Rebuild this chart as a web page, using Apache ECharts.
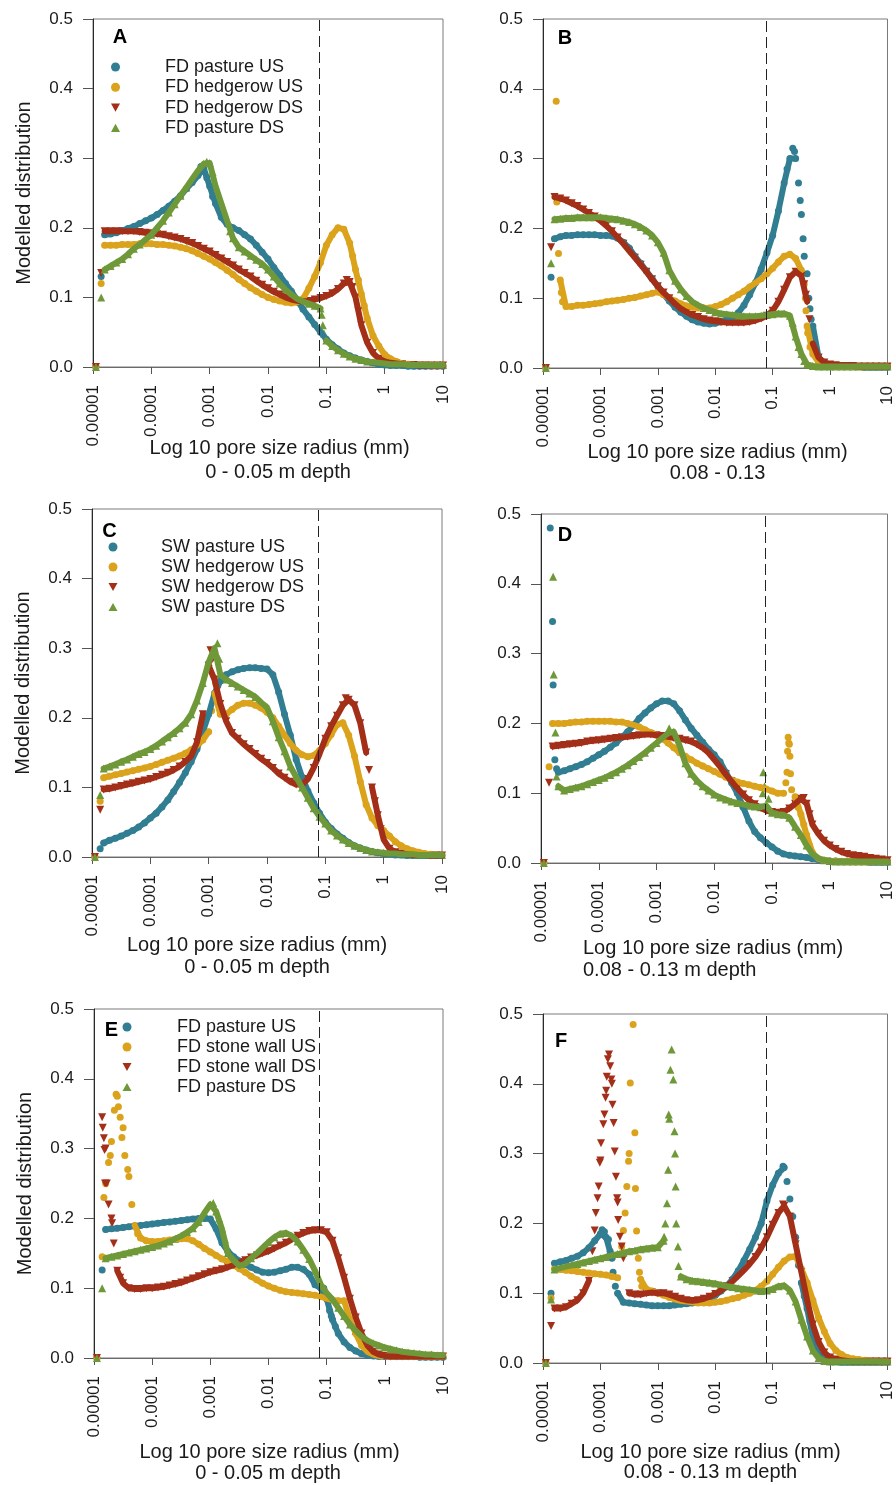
<!DOCTYPE html>
<html><head><meta charset="utf-8">
<script src="https://cdn.jsdelivr.net/npm/echarts@6/dist/echarts.min.js"></script>
<style>html,body{margin:0;padding:0;background:#fff}#chart{width:896px;height:1485px}</style>
</head><body><div id="chart"></div><script>
// ---------- DATA ----------
// x grid: log10 of pore size radius (mm)
const logX = [-4.95,-4.86,
 -4.8,-4.7,-4.6,-4.5,-4.4,-4.3,-4.2,-4.1,-4.0,
 -3.9,-3.8,-3.7,-3.6,-3.5,-3.4,-3.3,-3.2,-3.1,-3.0,
 -2.9,-2.8,-2.7,-2.6,-2.5,-2.4,-2.3,-2.2,-2.1,-2.0,
 -1.9,-1.8,-1.7,-1.6,-1.5,-1.4,-1.3,-1.2,-1.1,-1.0,
 -0.9,-0.8,-0.7,-0.6,-0.5,-0.4,-0.3,-0.2,-0.1,0.0,
 0.1,0.2,0.3,0.4,0.5,0.6,0.7,0.8,0.9,1.0];
const xTickLabels = ['0.00001','0.0001','0.001','0.01','0.1','1','10'];
const dashedLineX = 0.075; // mm
const namesA = ['FD pasture US','FD hedgerow US','FD hedgerow DS','FD pasture DS'];
const namesC = ['SW pasture US','SW hedgerow US','SW hedgerow DS','SW pasture DS'];
const namesE = ['FD pasture US','FD stone wall US','FD stone wall DS','FD pasture DS'];
const depthLabels = ['0 - 0.05 m depth','0.08 - 0.13','0 - 0.05 m depth','0.08 - 0.13 m depth','0 - 0.05 m depth','0.08 - 0.13 m depth'];
const panelLetters = ['A','B','C','D','E','F'];

// Panel A
const A_pUS = [0,0.13,
 0.19,0.191,0.193,0.196,0.199,0.202,0.206,0.21,0.214,
 0.219,0.225,0.231,0.238,0.246,0.256,0.265,0.275,0.285,0.26,
 0.235,0.215,0.205,0.2,0.196,0.19,0.184,0.175,0.165,0.155,
 0.143,0.132,0.12,0.109,0.096,0.083,0.072,0.061,0.05,0.04,
 0.032,0.026,0.02,0.016,0.013,0.01,0.008,0.006,0.004,0.003,
 0.002,0.002,0.002,0.001,0.001,0.001,0.001,0.001,0.001,0.001];
const A_hUS = [0,0.12,
 0.175,0.175,0.175,0.176,0.176,0.176,0.177,0.177,0.177,
 0.176,0.176,0.175,0.174,0.172,0.17,0.167,0.163,0.159,0.155,
 0.15,0.145,0.139,0.133,0.126,0.12,0.114,0.109,0.104,0.1,
 0.097,0.095,0.093,0.092,0.093,0.098,0.113,0.13,0.15,0.175,
 0.19,0.2,0.198,0.178,0.14,0.105,0.07,0.045,0.03,0.018,
 0.012,0.008,0.005,0.004,0.003,0.003,0.003,0.002,0.002,0.002];
const A_hDS = [0,0.135,
 0.195,0.195,0.195,0.195,0.195,0.195,0.194,0.193,0.192,
 0.191,0.19,0.188,0.186,0.184,0.181,0.178,0.174,0.17,0.166,
 0.161,0.156,0.151,0.146,0.14,0.135,0.13,0.124,0.118,0.113,
 0.108,0.104,0.1,0.097,0.095,0.094,0.095,0.097,0.099,0.102,
 0.106,0.112,0.12,0.122,0.1,0.06,0.035,0.02,0.012,0.008,
 0.006,0.005,0.004,0.003,0.003,0.002,0.002,0.002,0.002,0.002];
const A_pDS = [0,0.1,
 0.14,0.145,0.15,0.155,0.162,0.17,0.176,0.183,0.19,
 0.2,0.21,0.222,0.234,0.246,0.258,0.27,0.282,0.292,0.293,
 0.26,0.235,0.21,0.185,0.172,0.166,0.16,0.154,0.148,0.14,
 0.13,0.12,0.111,0.104,0.098,0.094,0.091,0.088,0.084,0.038,
 0.03,0.024,0.019,0.015,0.012,0.01,0.008,0.007,0.006,0.005,
 0.004,0.004,0.004,0.003,0.003,0.003,0.003,0.003,0.003,0.003];
const A_pUS_extra = [[-3.15,0.288],[-3.05,0.272],[-2.95,0.245]];
const A_hUS_extra = [[-0.55,0.16],[-0.45,0.125],[-0.35,0.088]];
const A_hDS_extra = [[-0.65,0.125],[-0.55,0.115],[-0.45,0.08]];
const A_pDS_extra = [[-3.05,0.295],[-2.95,0.28],[-2.65,0.195],[-1.08,0.075],[-1.06,0.06],[-1.04,0.048]];

// Panel B
const B_pUS = [0,0.13,
 0.185,0.188,0.19,0.19,0.191,0.191,0.191,0.191,0.19,
 0.19,0.189,0.186,0.18,0.172,0.16,0.15,0.139,0.128,0.117,
 0.106,0.096,0.087,0.08,0.074,0.069,0.066,0.064,0.063,0.064,
 0.066,0.069,0.073,0.079,0.09,0.105,0.122,0.142,0.165,0.19,
 0.225,0.265,0.3,0.3,0.22,0.135,0.06,0.015,0.005,0.003,
 0.002,0.002,0.002,0.002,0.002,0.001,0.001,0.001,0.001,0.001];
const B_hUS = [0,null,
 null,0.126,0.088,0.088,0.09,0.09,0.091,0.092,0.093,
 0.095,0.096,0.097,0.098,0.1,0.101,0.103,0.105,0.107,0.109,
 0.105,0.1,0.096,0.092,0.089,0.087,0.086,0.086,0.086,0.088,
 0.091,0.095,0.1,0.105,0.11,0.116,0.122,0.128,0.135,0.143,
 0.152,0.16,0.163,0.157,0.14,0.06,0.02,0.008,0.004,0.003,
 0.002,0.002,0.002,0.002,0.002,0.002,0.002,0.002,0.002,0.002];
const B_hDS = [0,0.173,
 0.245,0.243,0.24,0.236,0.232,0.227,0.222,0.217,0.211,
 0.204,0.196,0.187,0.178,0.168,0.158,0.148,0.138,0.127,0.117,
 0.108,0.1,0.092,0.085,0.08,0.076,0.073,0.07,0.068,0.067,
 0.066,0.065,0.065,0.065,0.065,0.066,0.068,0.071,0.075,0.082,
 0.095,0.112,0.13,0.138,0.132,0.095,0.035,0.015,0.008,0.005,
 0.004,0.003,0.003,0.003,0.002,0.002,0.002,0.002,0.002,0.002];
const B_pDS = [0,0.15,
 0.213,0.214,0.215,0.215,0.216,0.216,0.216,0.216,0.216,
 0.215,0.214,0.213,0.211,0.209,0.206,0.202,0.197,0.19,0.18,
 0.165,0.14,0.125,0.113,0.103,0.095,0.09,0.086,0.083,0.08,
 0.078,0.077,0.076,0.075,0.074,0.074,0.074,0.075,0.076,0.077,
 0.078,0.078,0.075,0.045,0.02,0.005,0.003,0.002,0.002,0.002,
 0.002,0.002,0.002,0.002,0.002,0.002,0.002,0.002,0.002,0.002];
const B_pUS_extra = [[-0.75,0.285],[-0.65,0.315],[-0.62,0.31],[-0.55,0.265],[-0.52,0.24],[-0.47,0.185],[-0.45,0.16],[-0.37,0.1],[-0.35,0.085],[-0.33,0.07],[-0.27,0.03],[-0.25,0.022]];
const B_hUS_extra = [[-4.77,0.382],[-4.76,0.238],[-4.73,0.164],[-4.68,0.108],[-4.66,0.095],[-0.45,0.12],[-0.43,0.1],[-0.42,0.082],[-0.39,0.05],[-0.35,0.03]];
const B_hDS_extra = [[-0.45,0.12],[-0.42,0.105],[-0.36,0.07],[-0.33,0.05],[-0.27,0.025]];
const B_pDS_extra = [[-0.65,0.065],[-0.55,0.03],[-0.45,0.01]];

// Panel C
const C_pUS = [0,0.012,
 0.02,0.024,0.027,0.03,0.034,0.038,0.043,0.049,0.056,
 0.063,0.072,0.082,0.094,0.107,0.121,0.137,0.155,0.18,0.205,
 0.235,0.253,0.262,0.266,0.269,0.271,0.272,0.272,0.271,0.27,
 0.262,0.237,0.205,0.175,0.14,0.115,0.095,0.078,0.063,0.05,
 0.041,0.033,0.027,0.021,0.016,0.013,0.01,0.008,0.006,0.005,
 0.004,0.003,0.003,0.002,0.002,0.002,0.002,0.002,0.002,0.002];
const C_hUS = [0,0.08,
 0.114,0.116,0.118,0.12,0.122,0.124,0.126,0.128,0.13,
 0.133,0.136,0.139,0.142,0.145,0.149,0.154,0.16,0.168,0.18,
 0.235,0.205,0.205,0.212,0.218,0.221,0.221,0.218,0.214,0.208,
 0.2,0.188,0.175,0.163,0.153,0.147,0.144,0.146,0.153,0.163,
 0.176,0.19,0.193,0.175,0.145,0.108,0.075,0.056,0.045,0.038,
 0.03,0.022,0.016,0.012,0.009,0.007,0.005,0.004,0.003,0.003];
const C_hDS = [0,0.068,
 0.097,0.098,0.1,0.102,0.104,0.106,0.108,0.11,0.112,
 0.115,0.118,0.121,0.125,0.13,0.137,0.145,0.165,0.205,0.275,
 0.255,0.22,0.195,0.178,0.17,0.162,0.155,0.148,0.141,0.135,
 0.128,0.12,0.114,0.108,0.104,0.104,0.112,0.128,0.148,0.17,
 0.188,0.203,0.218,0.226,0.218,0.192,0.15,0.1,0.06,0.025,
 0.012,0.007,0.005,0.004,0.003,0.003,0.003,0.002,0.002,0.002];
const C_pDS = [0,0.089,
 0.127,0.13,0.133,0.137,0.14,0.144,0.148,0.151,0.155,
 0.16,0.166,0.172,0.178,0.185,0.193,0.205,0.225,0.25,0.28,
 0.3,0.262,0.255,0.25,0.245,0.24,0.235,0.23,0.222,0.215,
 0.195,0.172,0.152,0.13,0.115,0.1,0.085,0.07,0.058,0.048,
 0.038,0.031,0.025,0.02,0.016,0.013,0.01,0.008,0.007,0.006,
 0.005,0.005,0.004,0.004,0.004,0.003,0.003,0.003,0.003,0.003];
const C_pUS_extra = [];
const C_hUS_extra = [[-2.88,0.25],[-2.95,0.21]];
const C_hDS_extra = [[-2.97,0.297],[-2.93,0.285],[-2.85,0.24],[-0.65,0.228],[-0.25,0.125],[-0.15,0.08],[-0.05,0.04]];
const C_pDS_extra = [[-2.85,0.307],[-2.82,0.285],[-2.95,0.29]];

// Panel D
const D_pUS = [0,null,
 null,0.13,0.132,0.135,0.138,0.141,0.145,0.15,0.155,
 0.16,0.166,0.172,0.18,0.188,0.197,0.207,0.215,0.222,0.228,
 0.232,0.232,0.228,0.218,0.205,0.193,0.183,0.173,0.163,0.155,
 0.145,0.13,0.115,0.1,0.08,0.06,0.045,0.036,0.029,0.023,
 0.017,0.013,0.011,0.01,0.009,0.008,0.006,0.005,0.004,0.003,
 0.003,0.002,0.002,0.002,0.002,0.002,0.001,0.001,0.001,0.001];
const D_hUS = [0,0.138,
 0.2,0.2,0.2,0.201,0.202,0.202,0.203,0.203,0.203,
 0.203,0.203,0.202,0.202,0.2,0.198,0.195,0.191,0.187,0.183,
 0.178,0.172,0.165,0.158,0.153,0.148,0.143,0.139,0.135,0.131,
 0.127,0.123,0.119,0.116,0.114,0.112,0.11,0.108,0.106,0.103,
 0.1,0.1,0.17,0.095,0.07,0.04,0.015,0.006,0.004,0.003,
 0.003,0.002,0.002,0.002,0.002,0.002,0.002,0.002,0.002,0.002];
const D_hDS = [0,0.115,
 0.167,0.168,0.169,0.17,0.171,0.172,0.174,0.175,0.176,
 0.177,0.178,0.179,0.18,0.181,0.182,0.183,0.184,0.184,0.183,
 0.182,0.181,0.179,0.178,0.176,0.174,0.17,0.165,0.158,0.148,
 0.138,0.127,0.117,0.107,0.098,0.09,0.084,0.079,0.075,0.073,
 0.072,0.073,0.078,0.085,0.092,0.085,0.055,0.042,0.032,0.025,
 0.02,0.016,0.013,0.011,0.01,0.009,0.007,0.006,0.005,0.004];
const D_pDS = [0,null,
 null,0.11,0.104,0.106,0.108,0.11,0.113,0.116,0.119,
 0.122,0.126,0.13,0.135,0.14,0.146,0.152,0.158,0.165,0.172,
 0.179,0.186,0.188,0.168,0.143,0.128,0.118,0.11,0.104,0.098,
 0.094,0.091,0.088,0.086,0.084,0.082,0.081,0.08,0.082,0.072,
 0.07,0.069,0.065,0.052,0.04,0.025,0.013,0.007,0.004,0.003,
 0.002,0.002,0.002,0.002,0.002,0.002,0.002,0.002,0.002,0.002];
const D_pUS_extra = [[-4.84,0.48],[-4.8,0.346],[-4.79,0.255],[-4.76,0.148],[-4.73,0.135]];
const D_hUS_extra = [[-0.76,0.115],[-0.74,0.13],[-0.73,0.16],[-0.72,0.18],[-0.71,0.172],[-0.69,0.153],[-0.68,0.128],[-0.66,0.105],[-0.55,0.08],[-0.45,0.055],[-0.35,0.025]];
const D_hDS_extra = [[-0.45,0.093],[-0.35,0.07]];
const D_pDS_extra = [[-4.79,0.41],[-4.78,0.27],[-4.75,0.187],[-4.73,0.124],[-2.78,0.193],[-1.15,0.13],[-1.16,0.1],[-1.13,0.11],[-1.06,0.092]];

// Panel E
const E_pUS = [0,0.126,
 0.184,0.185,0.186,0.187,0.188,0.189,0.19,0.191,0.192,
 0.193,0.194,0.195,0.196,0.197,0.198,0.199,0.2,0.2,0.199,
 0.185,0.165,0.153,0.145,0.139,0.134,0.13,0.126,0.123,0.122,
 0.123,0.125,0.127,0.13,0.13,0.127,0.12,0.105,0.1,0.085,
 0.055,0.035,0.023,0.015,0.01,0.006,0.004,0.003,0.002,0.002,
 0.002,0.002,0.002,0.002,0.002,0.001,0.001,0.001,0.001,0.001];
const E_sUS = [0,0.145,
 0.25,0.31,0.375,0.33,0.26,0.19,0.172,0.168,0.167,
 0.167,0.168,0.169,0.17,0.171,0.171,0.168,0.163,0.157,0.152,
 0.147,0.142,0.138,0.133,0.128,0.123,0.117,0.112,0.107,0.103,
 0.1,0.097,0.095,0.094,0.093,0.092,0.091,0.09,0.088,0.085,
 0.083,0.082,0.082,0.055,0.035,0.018,0.009,0.005,0.003,0.003,
 0.002,0.002,0.002,0.002,0.002,0.002,0.002,0.002,0.002,0.002];
const E_sDS = [0,0.345,
 0.3,0.2,0.125,0.107,0.1,0.099,0.099,0.1,0.1,
 0.101,0.102,0.104,0.106,0.108,0.111,0.114,0.117,0.12,0.123,
 0.125,0.127,0.13,0.133,0.137,0.14,0.144,0.147,0.15,0.153,
 0.157,0.161,0.165,0.17,0.175,0.179,0.182,0.183,0.183,0.18,
 0.168,0.143,0.115,0.085,0.058,0.035,0.018,0.009,0.005,0.003,
 0.002,0.002,0.002,0.002,0.002,0.002,0.002,0.002,0.002,0.002];
const E_pDS = [0,0.1,
 0.143,0.145,0.147,0.149,0.151,0.153,0.155,0.157,0.159,
 0.161,0.164,0.167,0.171,0.175,0.18,0.186,0.195,0.208,0.22,
 0.21,0.185,0.15,0.14,0.132,0.135,0.143,0.15,0.158,0.166,
 0.173,0.178,0.179,0.175,0.167,0.155,0.142,0.125,0.105,0.093,
 0.084,0.072,0.06,0.048,0.039,0.031,0.025,0.021,0.018,0.015,
 0.013,0.011,0.009,0.008,0.007,0.006,0.005,0.005,0.004,0.004];
const E_pUS_extra = [[-1.05,0.1],[-0.95,0.068],[-0.92,0.06],[-0.85,0.045]];
const E_sUS_extra = [[-4.83,0.23],[-4.75,0.28],[-4.72,0.29],[-4.65,0.355],[-4.62,0.378],[-4.58,0.36],[-4.55,0.345],[-4.52,0.316],[-4.47,0.29],[-4.42,0.27],[-4.35,0.22],[-4.25,0.178]];
const E_sDS_extra = [[-4.85,0.33],[-4.83,0.315],[-4.82,0.298],[-4.81,0.25],[-4.78,0.25],[-4.75,0.22],[-4.69,0.193],[-4.66,0.164],[-4.55,0.115]];
const E_pDS_extra = [[-2.95,0.222],[-2.85,0.2],[-2.75,0.17],[-2.65,0.142]];

// Panel F
const F_pUS = [0,0.1,
 0.143,0.145,0.147,0.15,0.153,0.158,0.165,0.175,0.185,
 0.18,0.15,0.1,0.087,0.086,0.085,0.084,0.083,0.082,0.082,
 0.082,0.082,0.083,0.084,0.085,0.086,0.088,0.09,0.093,0.097,
 0.103,0.11,0.12,0.132,0.147,0.163,0.18,0.2,0.232,0.255,
 0.272,0.28,0.235,0.18,0.115,0.078,0.037,0.012,0.004,0.002,
 0.002,0.001,0.001,0.001,0.001,0.001,0.001,0.001,0.001,0.001];
const F_sUS = [0,0.093,
 0.135,0.134,0.133,0.132,0.131,0.13,0.129,0.128,0.127,
 0.126,0.124,0.122,0.19,0.3,0.33,0.12,0.106,0.103,0.1,
 0.097,0.094,0.091,0.089,0.088,0.087,0.086,0.086,0.086,0.087,
 0.088,0.09,0.092,0.094,0.097,0.1,0.104,0.11,0.117,0.127,
 0.137,0.146,0.152,0.153,0.135,0.115,0.09,0.065,0.045,0.028,
 0.018,0.012,0.008,0.006,0.005,0.004,0.003,0.003,0.002,0.002];
const F_sDS = [0,0.053,
 0.078,0.078,0.08,0.085,0.09,0.1,0.118,0.19,0.29,
 0.39,0.4,0.23,0.15,0.1,0.098,0.098,0.1,0.101,0.1,
 0.1,0.098,0.095,0.092,0.09,0.089,0.09,0.092,0.095,0.099,
 0.104,0.11,0.117,0.125,0.133,0.142,0.152,0.165,0.18,0.198,
 0.215,0.225,0.21,0.17,0.13,0.09,0.055,0.03,0.015,0.008,
 0.005,0.004,0.003,0.002,0.002,0.002,0.002,0.002,0.002,0.002];
const F_pDS = [0,0.091,
 0.134,0.136,0.138,0.14,0.142,0.144,0.146,0.148,0.15,
 0.152,0.154,0.156,0.158,0.16,0.161,0.163,0.164,0.165,0.166,
 0.175,0.35,0.3,0.124,0.12,0.118,0.117,0.116,0.115,0.114,
 0.112,0.11,0.109,0.107,0.106,0.105,0.104,0.103,0.104,0.106,
 0.11,0.111,0.104,0.088,0.062,0.038,0.018,0.007,0.003,0.002,
 0.002,0.002,0.002,0.002,0.002,0.002,0.002,0.002,0.002,0.002];
const F_pUS_extra = [[-3.97,0.191],[-3.93,0.188],[-3.86,0.177],[-3.83,0.16],[-3.78,0.13],[-3.74,0.11],[-0.82,0.282],[-0.75,0.26],[-0.65,0.21],[-0.55,0.14],[-0.45,0.096],[-0.35,0.06],[-0.25,0.025]];
const F_sUS_extra = [[-3.63,0.167],[-3.57,0.215],[-3.54,0.253],[-3.51,0.289],[-3.48,0.401],[-3.43,0.485],[-3.39,0.25],[-3.37,0.189],[-3.34,0.15],[-3.32,0.13],[-3.28,0.11]];
const F_sDS_extra = [[-4.14,0.16],[-4.08,0.215],[-4.05,0.236],[-4.03,0.253],[-4.01,0.287],[-3.99,0.315],[-3.95,0.342],[-3.93,0.356],[-3.91,0.38],[-3.89,0.41],[-3.87,0.435],[-3.85,0.442],[-3.83,0.425],[-3.81,0.406],[-3.79,0.37],[-3.77,0.344],[-3.75,0.303],[-3.73,0.267],[-3.71,0.236],[-3.69,0.205],[-3.66,0.181],[-3.63,0.167],[-0.82,0.227]];
const F_pDS_extra = [[-2.89,0.181],[-2.87,0.2],[-2.84,0.229],[-2.82,0.277],[-2.81,0.356],[-2.78,0.42],[-2.76,0.449],[-2.73,0.406],[-2.71,0.332],[-2.69,0.253],[-2.68,0.2],[-2.65,0.167],[-2.64,0.139]];

// ---------- ASSEMBLY ----------
const panelSeries = [
  {names: namesA, ys: [A_pUS, A_hUS, A_hDS, A_pDS], extras: [A_pUS_extra, A_hUS_extra, A_hDS_extra, A_pDS_extra]},
  {names: namesA, ys: [B_pUS, B_hUS, B_hDS, B_pDS], extras: [B_pUS_extra, B_hUS_extra, B_hDS_extra, B_pDS_extra]},
  {names: namesC, ys: [C_pUS, C_hUS, C_hDS, C_pDS], extras: [C_pUS_extra, C_hUS_extra, C_hDS_extra, C_pDS_extra]},
  {names: namesC, ys: [D_pUS, D_hUS, D_hDS, D_pDS], extras: [D_pUS_extra, D_hUS_extra, D_hDS_extra, D_pDS_extra]},
  {names: namesE, ys: [E_pUS, E_sUS, E_sDS, E_pDS], extras: [E_pUS_extra, E_sUS_extra, E_sDS_extra, E_pDS_extra]},
  {names: namesE, ys: [F_pUS, F_sUS, F_sDS, F_pDS], extras: [F_pUS_extra, F_sUS_extra, F_sDS_extra, F_pDS_extra]}
];

const FONT = "'Liberation Sans', Arial, Helvetica, sans-serif";
const COLORS = ['#317d92', '#dba21c', '#a32f18', '#6f9938'];
const SYMBOLS = ['circle', 'circle', 'triangle', 'triangle'];
const ROTATE = [0, 0, 180, 0];
const SIZES = [7, 7, 8, 8];
const BAND_WIDTH = 6;        // dense-marker band look
const BAND_MAX_STEP = 0.045; // break band where neighbouring readings jump more than this
const BAND_START = 2;        // edge readings (first two) stay as separate markers
const LEGEND_ICONS = ['circle', 'circle', 'path://M0,0L10,0L5,9Z', 'path://M5,0L10,9L0,9Z'];

const layout = [
  {grid:{left:93,top:19,width:350,height:348}, yTitle:true, letter:[120,37.5], legend:{left:111,top:57,pad:40,gap:0.3}, title:{x1:279.5,y1:448,x2:278,y2:472,align:'center'}},
  {grid:{left:543,top:19,width:350,height:349}, yTitle:false, letter:[565,38.5], legend:null, title:{x1:717.5,y1:452,x2:717.5,y2:473,align:'center'}},
  {grid:{left:92,top:509,width:350,height:348}, yTitle:true, letter:[109.5,531.5], legend:{left:108.5,top:537,pad:38.5,gap:0}, title:{x1:257,y1:945,x2:257,y2:967,align:'center'}},
  {grid:{left:541,top:514,width:348,height:349}, yTitle:false, letter:[565,535], legend:null, title:{x1:583,y1:948,x2:583,y2:970,align:'left'}},
  {grid:{left:94,top:1009,width:349,height:349}, yTitle:true, letter:[111.5,1030], legend:{left:122.5,top:1017,pad:40.5,gap:0}, title:{x1:269.5,y1:1452,x2:268,y2:1473,align:'center'}},
  {grid:{left:543,top:1014,width:350,height:349}, yTitle:false, letter:[561,1041.5], legend:null, title:{x1:710.5,y1:1452,x2:710.5,y2:1472,align:'center'}}
];

function points(ys, extra) {
  const out = [];
  ys.forEach((y, i) => { if (y !== null && y !== undefined) out.push([logX[i], y]); });
  extra.forEach(p => out.push(p));
  return out;
}
// same readings, connected only inside smooth runs (dense band look); spikes stay as markers
function bandPoints(ys) {
  const n = ys.length;
  const ok = i => i >= 0 && i < n && ys[i] !== null && ys[i] !== undefined;
  const small = i => i >= BAND_START && ok(i) && ok(i + 1) && Math.abs(ys[i + 1] - ys[i]) <= BAND_MAX_STEP;
  const conn = [];
  for (let i = 0; i < n - 1; i++) conn[i] = small(i) && (small(i - 1) || small(i + 1));
  const out = [];
  for (let i = 0; i < n - 1; i++) {
    if (!conn[i]) continue;
    if (!(i > 0 && conn[i - 1])) {
      if (out.length) out.push([logX[i] - 0.001, null]);
      out.push([logX[i], ys[i]]);
    }
    out.push([logX[i + 1], ys[i + 1]]);
  }
  return out;
}

const grids = [], xAxes = [], yAxes = [], series = [], legends = [], graphics = [];
layout.forEach((L, p) => {
  grids.push(Object.assign({show:true, borderColor:'#7a7a7a', borderWidth:1, containLabel:false}, L.grid));
  xAxes.push({
    type:'value', gridIndex:p, min:-5, max:1, interval:1,
    axisLine:{show:true, onZero:false, lineStyle:{color:'#6a6a6a', width:1}},
    axisTick:{show:true, inside:false, length:7, lineStyle:{color:'#555'}},
    splitLine:{show:false},
    axisLabel:{rotate:90, margin:18, fontFamily:FONT, fontSize:17, color:'#1a1a1a',
      formatter: v => xTickLabels[Math.round(v) + 5]}
  });
  yAxes.push({
    type:'value', gridIndex:p, min:0, max:0.5, interval:0.1,
    axisLine:{show:true, onZero:false, lineStyle:{color:'#2a2a2a', width:1}},
    axisTick:{show:true, inside:false, length:10, lineStyle:{color:'#555'}},
    splitLine:{show:false},
    axisLabel:{margin:20, fontFamily:FONT, fontSize:17, color:'#1a1a1a', formatter: v => v.toFixed(1)},
    name: L.yTitle ? 'Modelled distribution' : '',
    nameLocation:'middle', nameRotate:90, nameGap:59,
    nameTextStyle:{fontFamily:FONT, fontSize:20, color:'#1a1a1a'}
  });
  const P = panelSeries[p];
  P.names.forEach((nm, s) => {
    series.push({
      type:'line', name:'band', xAxisIndex:p, yAxisIndex:p, showSymbol:false, symbol:'none',
      connectNulls:false, silent:true, clip:false,
      lineStyle:{color:COLORS[s], width:BAND_WIDTH, cap:'round', join:'round'},
      data: bandPoints(P.ys[s])
    });
    const ser = {
      type:'scatter', name:nm, xAxisIndex:p, yAxisIndex:p,
      symbol:SYMBOLS[s], symbolRotate:ROTATE[s], symbolSize:SIZES[s],
      itemStyle:{color:COLORS[s], opacity:1}, clip:false, silent:true,
      data: points(P.ys[s], P.extras[s])
    };
    if (s === 3) {
      ser.markLine = {
        silent:true, symbol:['none','none'], label:{show:false},
        lineStyle:{color:'#222', width:1, type:[11,5]},
        data:[{xAxis: Math.log10(dashedLineX)}]
      };
    }
    series.push(ser);
  });
  if (L.legend) {
    legends.push({
      orient:'vertical', left:L.legend.left, top:L.legend.top, padding:0,
      itemWidth:9, itemHeight:9, itemGap:L.legend.gap, selectedMode:false,
      textStyle:{fontFamily:FONT, fontSize:18, color:'#1a1a1a', lineHeight:20, padding:[0,0,0,L.legend.pad]},
      data: P.names.map((nm, s) => ({name:nm, icon:LEGEND_ICONS[s], itemStyle:{color:COLORS[s]}}))
    });
  }
  graphics.push({type:'text', x:L.letter[0], y:L.letter[1], silent:true,
    style:{text:panelLetters[p], font:'bold 20px ' + FONT, fill:'#000', textAlign:'center', textVerticalAlign:'middle', align:'center', verticalAlign:'middle'}});
  graphics.push({type:'text', x:L.title.x1, y:L.title.y1, silent:true,
    style:{text:'Log 10 pore size radius (mm)', font:'20px ' + FONT, fill:'#1a1a1a', textAlign:L.title.align, textVerticalAlign:'middle', align:L.title.align, verticalAlign:'middle'}});
  graphics.push({type:'text', x:L.title.x2, y:L.title.y2, silent:true,
    style:{text:depthLabels[p], font:'20px ' + FONT, fill:'#1a1a1a', textAlign:L.title.align, textVerticalAlign:'middle', align:L.title.align, verticalAlign:'middle'}});
});

const chart = echarts.init(document.getElementById('chart'), null, {renderer:'canvas', width:896, height:1485});
chart.setOption({
  backgroundColor:'#ffffff',
  animation:false,
  textStyle:{fontFamily:FONT},
  grid:grids, xAxis:xAxes, yAxis:yAxes, series:series, legend:legends,
  graphic:{elements:graphics}
});
</script></body></html>
